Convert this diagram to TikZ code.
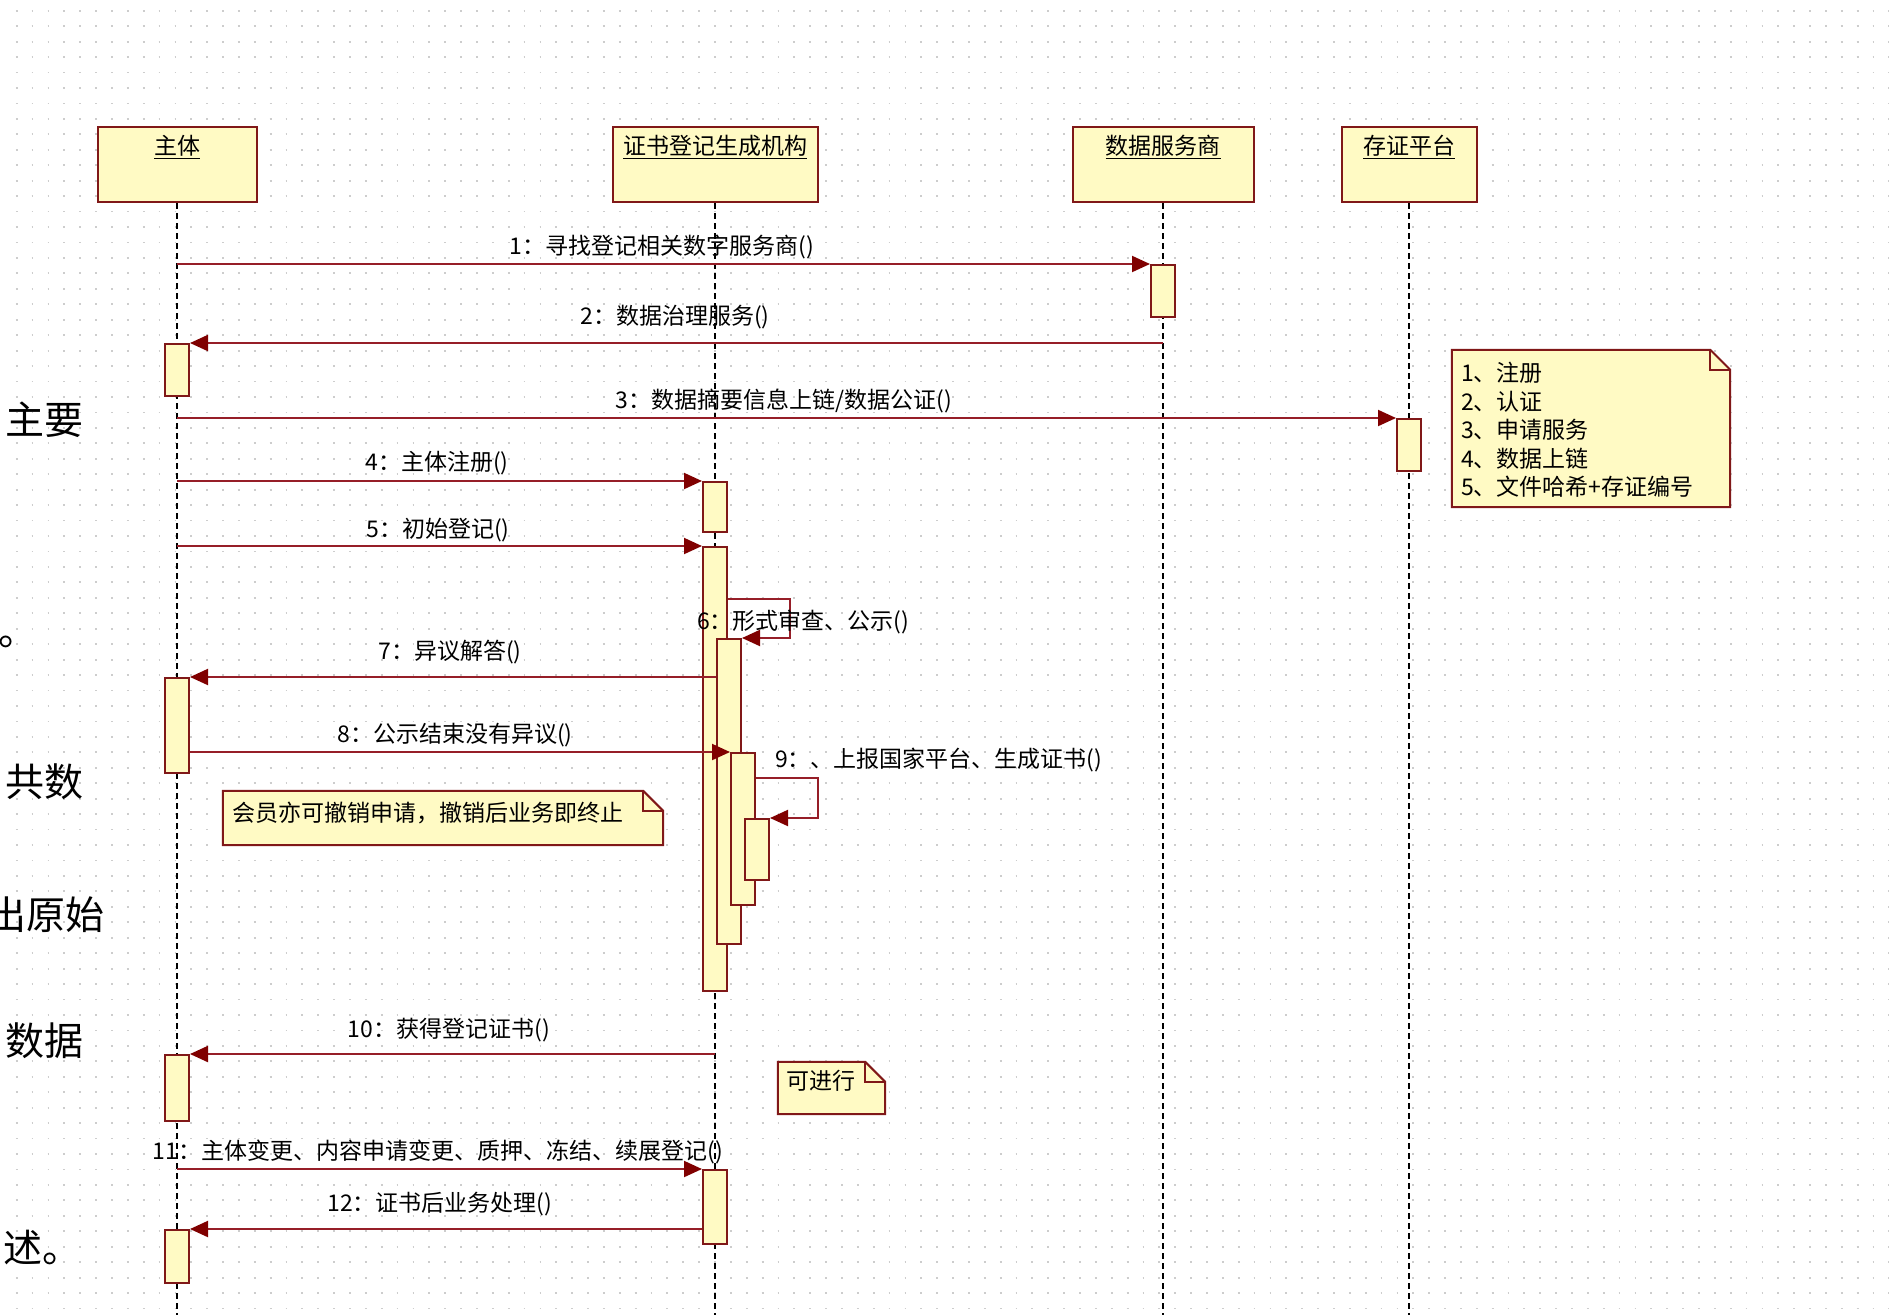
\documentclass[tikz,border=0pt]{standalone}
\usepackage{fontspec}
\setmainfont{Noto Sans CJK SC}
\usetikzlibrary{arrows.meta}
\definecolor{boxfill}{RGB}{255,250,196}
\definecolor{boxline}{RGB}{128,24,24}
\definecolor{msgline}{RGB}{150,30,40}
\definecolor{headc}{RGB}{128,0,0}
\definecolor{dotc}{RGB}{205,205,205}
\begin{document}
\begin{tikzpicture}[x=1pt,y=-1pt,
  griddot/.style={dotc, line width=1.8pt, dash pattern=on 1.8pt off 14.07pt},
  objbox/.style={draw=boxline, fill=boxfill, line width=2pt, minimum width=#1, minimum height=75pt, anchor=north, inner sep=0pt},
  hdr/.style={font=\fontsize{23}{27}\selectfont, inner sep=0pt},
  life/.style={black, line width=1.5pt, dash pattern=on 6pt off 4pt},
  act/.style={draw=boxline, fill=boxfill, line width=2pt, minimum width=24pt, minimum height=#1, anchor=north, inner sep=0pt},
  msg/.style={msgline, line width=2pt, -{Triangle[length=18pt,width=16pt,fill=headc,color=headc]}},
  lbl/.style={font=\fontsize{23}{27}\selectfont, inner sep=0pt},
  notebg/.style={draw=boxline, fill=boxfill, line width=2pt},
  big/.style={font=\fontsize{39}{44}\selectfont, inner sep=0pt}
]
\useasboundingbox (0,0) rectangle (1889,1315);
\clip (0,0) rectangle (1889,1315);
\fill[white] (0,0) rectangle (1889,1315);
% dotted grid
\foreach \i in {0,...,84} {
  \draw[griddot] (15.8,10.7+\i*15.45) -- (1889,10.7+\i*15.45);
}
% background document text at the left edge
\node[big, anchor=west] (bg1) at (5,420) {主要};
\node[big, anchor=base west] (bg2) at (-2,645) {。};
\node[big, anchor=west] (bg3) at (5,782) {共数};
\node[big, anchor=east] (bg4) at (105,915) {出原始};
\node[big, anchor=west] (bg5) at (5,1041) {数据};
\node[big, anchor=west] (bg6) at (3,1248) {述。};

% objects
\node[objbox=159pt] (zt) at (177,126) {};
\node[objbox=205pt] (zs) at (715,126) {};
\node[objbox=181pt] (sd) at (1163,126) {};
\node[objbox=135pt] (cz) at (1409,126) {};
\node[hdr] (ztt) at ([yshift=-21pt]zt.north) {\underline{主体}};
\node[hdr] (zst) at ([yshift=-21pt]zs.north) {\underline{证书登记生成机构}};
\node[hdr] (sdt) at ([yshift=-21pt]sd.north) {\underline{数据服务商}};
\node[hdr] (czt) at ([yshift=-21pt]cz.north) {\underline{存证平台}};

% lifelines
\coordinate (ztend) at (177,1315);
\coordinate (zsend) at (715,1315);
\coordinate (sdend) at (1163,1315);
\coordinate (czend) at (1409,1315);
\draw[life] (zt.south) -- (ztend);
\draw[life] (zs.south) -- (zsend);
\draw[life] (sd.south) -- (sdend);
\draw[life] (cz.south) -- (czend);

% activations
\node[act=52pt] (asd) at (1163,264) {};
\node[act=52pt] (azt1) at (177,343) {};
\node[act=52pt] (acz) at (1409,418) {};
\node[act=50pt] (azs4) at (715,481) {};
\node[act=444pt] (azs5) at (715,546) {};
\node[act=305pt] (azs6) at (729,638) {};
\node[act=95pt] (azt2) at (177,677) {};
\node[act=152pt] (azs9) at (743,752) {};
\node[act=61pt] (azs10) at (757,818) {};
\node[act=66pt] (azt3) at (177,1054) {};
\node[act=74pt] (azs11) at (715,1169) {};
\node[act=53pt] (azt4) at (177,1229) {};

% messages
\draw[msg] (zt.south |- asd.north) -- (asd.north west);
\draw[msg] (sd.south |- azt1.north) -- (azt1.north east);
\draw[msg] (zt.south |- acz.north) -- (acz.north west);
\draw[msg] (zt.south |- azs4.north) -- (azs4.north west);
\draw[msg] (zt.south |- azs5.north) -- (azs5.north west);
\draw[msg] ([yshift=-53pt]azs5.north east) -- ++(62,0) |- (azs6.north east);
\draw[msg] (azt2.north east -| azs6.west) -- (azt2.north east);
\draw[msg] (azs9.north west -| azt2.east) -- (azs9.north west);
\draw[msg] ([yshift=-26pt]azs9.north east) -- ++(62,0) |- (azs10.north east);
\draw[msg] (zs.south |- azt3.north) -- (azt3.north east);
\draw[msg] (zt.south |- azs11.north) -- (azs11.north west);
\draw[msg] (azt4.north east -| azs11.west) -- (azt4.north east);

% message labels
\node[lbl] (l1) at (662,247) {1：寻找登记相关数字服务商()};
\node[lbl] (l2) at (675,317) {2：数据治理服务()};
\node[lbl] (l3) at (784,401) {3：数据摘要信息上链/数据公证()};
\node[lbl] (l4) at (437,463) {4：主体注册()};
\node[lbl] (l5) at (438,530) {5：初始登记()};
\node[lbl, anchor=west] (l6) at (697,622) {6：形式审查、公示()};
\node[lbl] (l7) at (450,652) {7：异议解答()};
\node[lbl] (l8) at (455,735) {8：公示结束没有异议()};
\node[lbl, anchor=west] (l9) at (775,760) {9：、上报国家平台、生成证书()};
\node[lbl] (l10) at (449,1030) {10：获得登记证书()};
\node[lbl] (l11) at (438,1152) {11：主体变更、内容申请变更、质押、冻结、续展登记()};
\node[lbl] (l12) at (440,1204) {12：证书后业务处理()};

% notes
\node[minimum width=278pt, minimum height=157pt, inner sep=0pt] (n1) at (1591,428.5) {};
\draw[notebg] (n1.north west) -- ([xshift=-20pt]n1.north east) -- ([yshift=-20pt]n1.north east) -- (n1.south east) -- (n1.south west) -- cycle;
\draw[boxline, line width=2pt] ([xshift=-20pt]n1.north east) |- ([yshift=-20pt]n1.north east);
\node[lbl, anchor=north west, align=left, font=\fontsize{23}{28.5}\selectfont] (n1t) at (1461,362) {1、注册\\2、认证\\3、申请服务\\4、数据上链\\5、文件哈希+存证编号};

\node[minimum width=440pt, minimum height=54pt, inner sep=0pt] (n2) at (443,818) {};
\draw[notebg] (n2.north west) -- ([xshift=-20pt]n2.north east) -- ([yshift=-20pt]n2.north east) -- (n2.south east) -- (n2.south west) -- cycle;
\draw[boxline, line width=2pt] ([xshift=-20pt]n2.north east) |- ([yshift=-20pt]n2.north east);
\node[lbl, anchor=west] (n2t) at (232,813) {会员亦可撤销申请，撤销后业务即终止};

\node[minimum width=107pt, minimum height=52pt, inner sep=0pt] (n3) at (831.5,1088) {};
\draw[notebg] (n3.north west) -- ([xshift=-20pt]n3.north east) -- ([yshift=-20pt]n3.north east) -- (n3.south east) -- (n3.south west) -- cycle;
\draw[boxline, line width=2pt] ([xshift=-20pt]n3.north east) |- ([yshift=-20pt]n3.north east);
\node[lbl, anchor=west] (n3t) at (786,1081) {可进行};
\end{tikzpicture}
\end{document}
